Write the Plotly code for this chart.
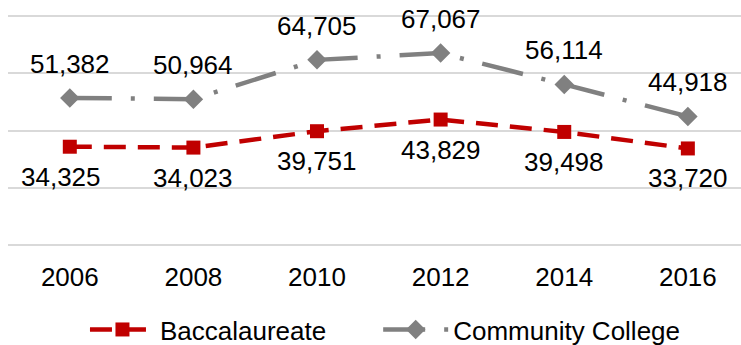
import plotly.graph_objects as go

years = ["2006", "2008", "2010", "2012", "2014", "2016"]
baccalaureate = [34325, 34023, 39751, 43829, 39498, 33720]
community_college = [51382, 50964, 64705, 67067, 56114, 44918]

FONT = "Liberation Sans, Arial, sans-serif"
RED = "#C00000"
GRAY = "#808080"

fig = go.Figure()
fig.add_trace(go.Scatter(
    x=years, y=baccalaureate, name="Baccalaureate", mode="lines+markers",
    line=dict(color=RED, width=4.5, dash="22px,12px"),
    marker=dict(symbol="square", size=14, color=RED), legend="legend",
))
fig.add_trace(go.Scatter(
    x=years, y=community_college, name="Community College", mode="lines+markers",
    line=dict(color=GRAY, width=4.5, dash="42px,19px,4px,19px"),
    marker=dict(symbol="diamond", size=15, color=GRAY), legend="legend2",
))

for i, v in enumerate(baccalaureate):
    fig.add_annotation(x=i, y=v, xref="x", yref="y", text=f"{v:,}", showarrow=False,
                       yshift=-30, xshift=(-9 if i == 0 else 0),
                       font=dict(family=FONT, size=26, color="black"))
for i, v in enumerate(community_college):
    fig.add_annotation(x=i, y=v, xref="x", yref="y", text=f"{v:,}", showarrow=False,
                       yshift=34, font=dict(family=FONT, size=26, color="black"))

# y range padded slightly so the 0 and 80,000 gridlines are drawn
pad = 400
px_per_unit = 229 / 80000
pad_px = pad * px_per_unit

legend_common = dict(orientation="h", y=-0.26, yanchor="top", xanchor="left",
                     font=dict(family=FONT, size=26, color="black"), itemwidth=65,
                     bgcolor="rgba(0,0,0,0)")

fig.update_layout(
    width=741, height=345,
    margin=dict(l=8, r=0, t=16 - pad_px, b=100 - pad_px, autoexpand=False),
    paper_bgcolor="white", plot_bgcolor="white",
    font=dict(family=FONT, size=26, color="black"),
    showlegend=True,
    legend=dict(x=0.105, **legend_common),
    legend2=dict(x=0.505, **legend_common),
)
fig.update_xaxes(type="category", range=[-0.5, 5.43], showgrid=False, showline=False,
                 ticks="", zeroline=False, ticklabelstandoff=13, automargin=False,
                 tickfont=dict(family=FONT, size=26, color="black"))
fig.update_yaxes(range=[-pad, 80000 + pad], tickvals=[0, 20000, 40000, 60000, 80000],
                 showticklabels=False, showgrid=True, automargin=False,
                 gridcolor="#D9D9D9", gridwidth=1.5, zeroline=False, showline=False, ticks="")

fig.write_html("out.html")
